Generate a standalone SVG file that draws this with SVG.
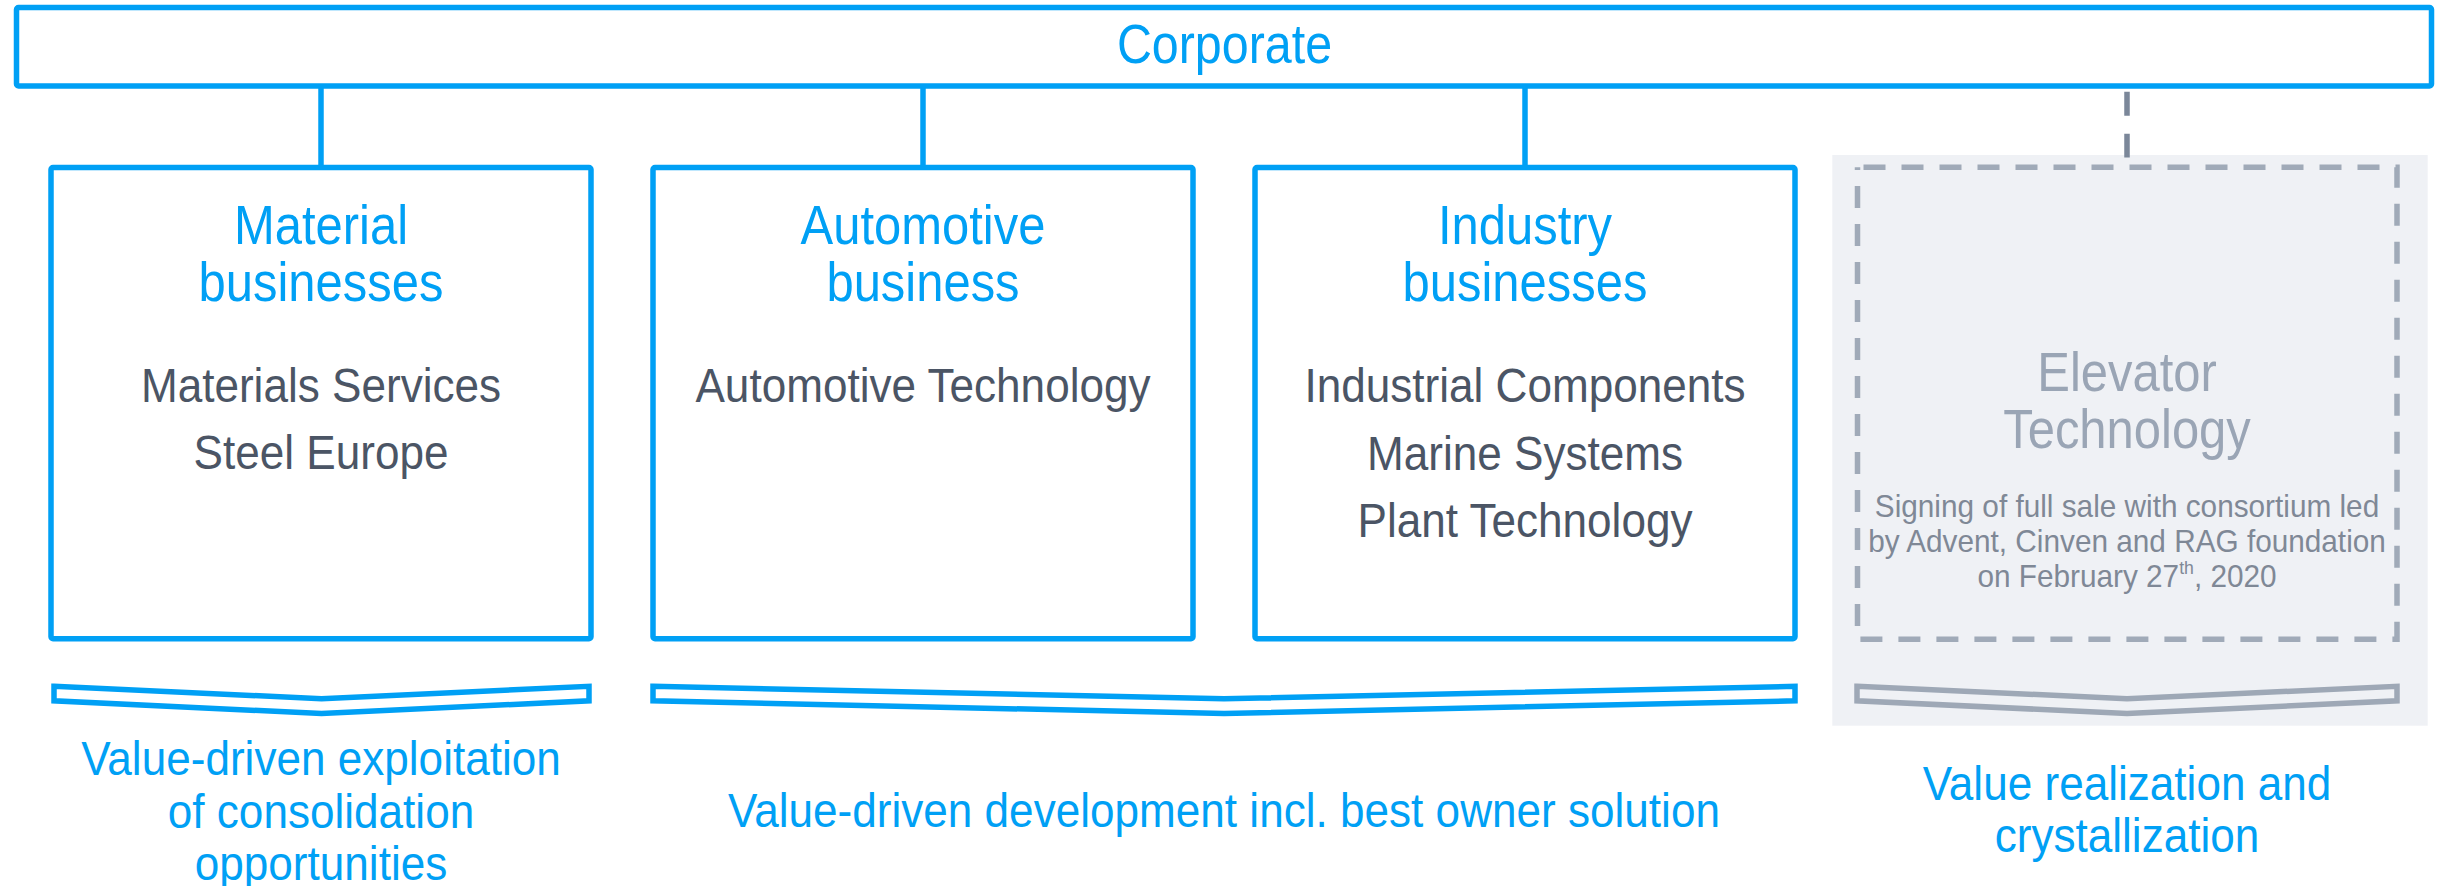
<svg xmlns="http://www.w3.org/2000/svg" width="2440" height="886" viewBox="0 0 2440 886">
  <style>
    .t { font-family: "Liberation Sans", Arial, sans-serif; text-anchor: middle; }
    .box { fill: #ffffff; stroke: #00a0f5; stroke-width: 5.5; }
    .hdr { font-size: 55px; fill: #00a0f5; }
    .item { font-size: 49px; fill: #4b5565; }
    .lbl { font-size: 49px; fill: #00a0f5; }
    .conn { stroke: #00a0f5; stroke-width: 5.5; fill: none; }
    .chev { fill: none; stroke: #00a0f5; stroke-width: 5.5; stroke-linejoin: miter; }
    .chevg { fill: none; stroke: #9ea8b6; stroke-width: 5.5; stroke-linejoin: miter; }
    .ghdr { font-size: 55px; fill: #9aa5b5; }
    .gsmall { font-size: 32px; fill: #7f8896; }
  </style>

  <g id="elevator-background">
    <rect x="1832.3" y="155" width="595.4" height="570.7" fill="#eff1f5"/>
  </g>

  <g id="connectors">
    <line class="conn" x1="321" y1="86" x2="321" y2="167.5"/>
    <line class="conn" x1="923" y1="86" x2="923" y2="167.5"/>
    <line class="conn" x1="1525" y1="86" x2="1525" y2="167.5"/>
    <line x1="2127" y1="91.7" x2="2127" y2="157.5" stroke="#7b8799" stroke-width="5.5" stroke-dasharray="24 18"/>
  </g>

  <g id="corporate">
    <rect class="box" x="16.5" y="7.5" width="2415" height="78.5" rx="2"/>
    <text class="t hdr" transform="translate(1224.5 63) scale(0.88 1)">Corporate</text>
  </g>

  <g id="material">
    <rect class="box" x="51" y="167.5" width="540" height="471.2" rx="2"/>
    <text class="t hdr" transform="translate(321 244) scale(0.89 1)">Material</text>
    <text class="t hdr" transform="translate(321 301) scale(0.89 1)">businesses</text>
    <text class="t item" transform="translate(321 402) scale(0.9 1)">Materials Services</text>
    <text class="t item" transform="translate(321 469) scale(0.9 1)">Steel Europe</text>
  </g>

  <g id="automotive">
    <rect class="box" x="653" y="167.5" width="540" height="471.2" rx="2"/>
    <text class="t hdr" transform="translate(923 244) scale(0.89 1)">Automotive</text>
    <text class="t hdr" transform="translate(923 301) scale(0.89 1)">business</text>
    <text class="t item" transform="translate(923 402) scale(0.9 1)">Automotive Technology</text>
  </g>

  <g id="industry">
    <rect class="box" x="1255" y="167.5" width="540" height="471.2" rx="2"/>
    <text class="t hdr" transform="translate(1525 244) scale(0.89 1)">Industry</text>
    <text class="t hdr" transform="translate(1525 301) scale(0.89 1)">businesses</text>
    <text class="t item" transform="translate(1525 402) scale(0.9 1)">Industrial Components</text>
    <text class="t item" transform="translate(1525 469.5) scale(0.9 1)">Marine Systems</text>
    <text class="t item" transform="translate(1525 537) scale(0.9 1)">Plant Technology</text>
  </g>

  <g id="elevator">
    <rect x="1857.5" y="167.3" width="539.5" height="471.9" fill="none" stroke="#a0aab8" stroke-width="5.5" stroke-dasharray="22 16" stroke-dashoffset="32"/>
    <text class="t ghdr" transform="translate(2127 391) scale(0.89 1)">Elevator</text>
    <text class="t ghdr" transform="translate(2127 448) scale(0.89 1)">Technology</text>
    <text class="t gsmall" transform="translate(2127 517) scale(0.93 1)">Signing of full sale with consortium led</text>
    <text class="t gsmall" transform="translate(2127 552) scale(0.93 1)">by Advent, Cinven and RAG foundation</text>
    <text class="t gsmall" transform="translate(2127 587) scale(0.93 1)">on February 27<tspan font-size="19" dy="-13">th</tspan><tspan dy="13">, 2020</tspan></text>
  </g>

  <g id="chevron-material">
    <polygon class="chev" points="54,686.3 321.5,698.7 589,686.3 589,700.8 321.5,713.5 54,700.8"/>
  </g>
  <g id="chevron-auto-industry">
    <polygon class="chev" points="653,686.3 1224,698.7 1795,686.3 1795,700.8 1224,713.5 653,700.8"/>
  </g>
  <g id="chevron-elevator">
    <polygon class="chevg" points="1857,686.3 2127,698.7 2397,686.3 2397,700.8 2127,713.5 1857,700.8"/>
  </g>

  <g id="label-consolidation">
    <text class="t lbl" transform="translate(321 775) scale(0.9 1)">Value-driven exploitation</text>
    <text class="t lbl" transform="translate(321 827.7) scale(0.9 1)">of consolidation</text>
    <text class="t lbl" transform="translate(321 880) scale(0.9 1)">opportunities</text>
  </g>
  <g id="label-development">
    <text class="t lbl" transform="translate(1224 827) scale(0.9 1)">Value-driven development incl. best owner solution</text>
  </g>
  <g id="label-realization">
    <text class="t lbl" transform="translate(2127 800) scale(0.9 1)">Value realization and</text>
    <text class="t lbl" transform="translate(2127 851.7) scale(0.9 1)">crystallization</text>
  </g>
</svg>
